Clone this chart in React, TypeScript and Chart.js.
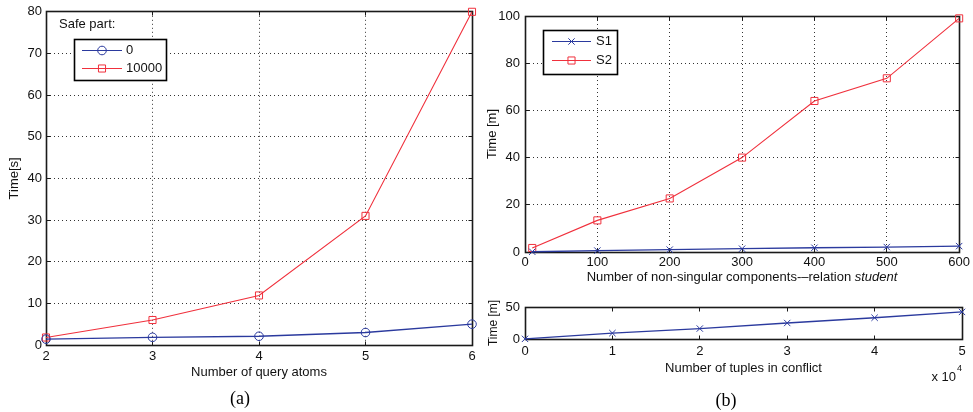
import React, { useEffect, useRef } from 'react';
import { Chart, registerables } from 'chart.js';
import { drawPoint } from 'chart.js/helpers';

Chart.register(...registerables);

const FONT = '"Liberation Sans", Arial, Helvetica, sans-serif';
const BLUE = '#2b3a9e';
const RED = '#f0303c';
const INK = '#111';

// ---- Chart (a): time vs number of query atoms ----
const atomsX = [2, 3, 4, 5, 6];
const safe0 = [1.4, 1.85, 2.1, 3.0, 5.0];
const safe10000 = [1.8, 6.0, 11.9, 31.0, 80.0];
const atomsLegend = ['0', '10000'];

// ---- Chart (b) top: time vs non-singular components ----
const componentsX = [10, 100, 200, 300, 400, 500, 600];
const s1 = [0.1, 0.6, 1.0, 1.4, 1.8, 2.1, 2.5];
const s2 = [1.7, 13.4, 22.7, 40.0, 64.0, 73.6, 99.0];
const componentsLegend = ['S1', 'S2'];

// ---- Chart (b) bottom: time vs tuples in conflict (x 10^4) ----
const tuplesX = [0, 1, 2, 3, 4, 5];
const tuplesTime = [0.2, 9.2, 16.3, 25.0, 33.2, 42.3];

const pts = (xs: number[], ys: number[]) => xs.map((x, i) => ({ x, y: ys[i] }));

const align = (p: number) => Math.round(p - 0.5) + 0.5;

const boxPlugin = {
  id: 'matlabBox',
  beforeDatasetsDraw(chart: any) {
    const { ctx, chartArea: a, scales } = chart;
    ctx.save();
    ctx.strokeStyle = '#1a1a1a';
    ctx.lineWidth = 1;
    ctx.setLineDash([]);
    const l = align(a.left), r = align(a.right), t = align(a.top), b = align(a.bottom);
    const tl = 4;
    ctx.beginPath();
    for (const tk of scales.x.ticks) {
      const x = align(scales.x.getPixelForValue(tk.value));
      ctx.moveTo(x, b); ctx.lineTo(x, b - tl);
      ctx.moveTo(x, t); ctx.lineTo(x, t + tl);
    }
    for (const tk of scales.y.ticks) {
      const y = align(scales.y.getPixelForValue(tk.value));
      ctx.moveTo(l, y); ctx.lineTo(l + tl, y);
      ctx.moveTo(r, y); ctx.lineTo(r - tl, y);
    }
    ctx.stroke();
    ctx.lineWidth = 1.6;
    ctx.strokeRect(l, t, r - l, b - t);
    ctx.restore();
  },
};

type LegendItem = { label: string; color: string; style: string; radius: number };
type LegendSpec = {
  title?: string; titleX?: number; titleY?: number;
  box: [number, number, number, number];
  lineX: [number, number]; rowsY: number[]; textX: number; items: LegendItem[];
};

function legendPlugin(spec: LegendSpec) {
  return {
    id: 'customLegend',
    afterDraw(chart: any) {
      const ctx = chart.ctx as CanvasRenderingContext2D;
      ctx.save();
      ctx.font = `13px ${FONT}`;
      ctx.fillStyle = INK;
      ctx.textBaseline = 'middle';
      ctx.textAlign = 'left';
      if (spec.title) ctx.fillText(spec.title, spec.titleX!, spec.titleY!);
      const [x, y, w, h] = spec.box;
      ctx.fillStyle = '#fff';
      ctx.fillRect(x, y, w, h);
      ctx.strokeStyle = '#000';
      ctx.lineWidth = 1.6;
      ctx.strokeRect(x + 0.5, y + 0.5, w, h);
      spec.items.forEach((it, i) => {
        const yy = spec.rowsY[i] + 0.5;
        ctx.strokeStyle = it.color;
        ctx.lineWidth = 1.2;
        ctx.beginPath();
        ctx.moveTo(spec.lineX[0], yy);
        ctx.lineTo(spec.lineX[1], yy);
        ctx.stroke();
        ctx.fillStyle = 'rgba(0,0,0,0)';
        ctx.lineWidth = 1;
        drawPoint(ctx, { pointStyle: it.style as any, radius: it.radius, rotation: 0, borderWidth: 1 } as any,
          (spec.lineX[0] + spec.lineX[1]) / 2, yy);
        ctx.fillStyle = INK;
        ctx.font = `13px ${FONT}`;
        ctx.fillText(it.label, spec.textX, spec.rowsY[i]);
      });
      ctx.restore();
    },
  };
}

const tickFont = { family: FONT, size: 13 };
const titleFont = { family: FONT, size: 13 };

function dottedGrid() {
  return {
    grid: { color: '#333', lineWidth: 1, drawTicks: false },
    border: { display: false, dash: [1, 3] },
  };
}

function lineDataset(label: string, data: any[], color: string, style: string, radius: number, width = 1) {
  return {
    label,
    data,
    borderColor: color,
    borderWidth: width,
    pointStyle: style,
    pointRadius: radius,
    pointHoverRadius: radius,
    pointBorderColor: color,
    pointBackgroundColor: 'rgba(0,0,0,0)',
    pointBorderWidth: 1,
    tension: 0,
    clip: false as any,
  };
}

const baseOptions = {
  responsive: false,
  animation: false as const,
  devicePixelRatio: 1,
  plugins: { legend: { display: false }, tooltip: { enabled: false } },
  events: [] as any[],
};

function configA(): any {
  return {
    type: 'line',
    data: {
      datasets: [
        lineDataset(atomsLegend[0], pts(atomsX, safe0), BLUE, 'circle', 4.3, 1.3),
        lineDataset(atomsLegend[1], pts(atomsX, safe10000), RED, 'rect', 5, 1.1),
      ],
    },
    options: {
      ...baseOptions,
      layout: { padding: { left: 0, top: 9, right: 18, bottom: 0 } },
      scales: {
        x: {
          type: 'linear', min: 2, max: 6,
          ticks: { stepSize: 1, color: INK, font: tickFont, padding: 4 },
          ...dottedGrid(),
          title: { display: true, text: 'Number of query atoms', color: INK, font: titleFont, padding: { top: 0, bottom: 32 } },
          afterFit: (s: any) => { s.height = 67; },
        },
        y: {
          type: 'linear', min: 0, max: 80,
          ticks: { stepSize: 10, color: INK, font: tickFont, padding: 4 },
          ...dottedGrid(),
          title: { display: true, text: 'Time[s]', color: INK, font: titleFont, padding: { top: 7, bottom: 0 } },
          afterFit: (s: any) => { s.width = 46; },
        },
      },
    },
    plugins: [
      boxPlugin,
      legendPlugin({
        title: 'Safe part:', titleX: 59, titleY: 24,
        box: [74, 39, 92, 41], lineX: [82, 122], rowsY: [50, 68], textX: 126,
        items: [
          { label: atomsLegend[0], color: BLUE, style: 'circle', radius: 4.3 },
          { label: atomsLegend[1], color: RED, style: 'rect', radius: 5 },
        ],
      }),
    ],
  };
}

const b1TitlePlugin = {
  id: 'b1Title',
  afterDraw(chart: any) {
    const ctx = chart.ctx as CanvasRenderingContext2D;
    const plain = 'Number of non-singular components-\u2013relation ';
    const ital = 'student';
    ctx.save();
    ctx.textBaseline = 'middle';
    ctx.textAlign = 'left';
    ctx.fillStyle = INK;
    ctx.font = `13px ${FONT}`;
    const w1 = ctx.measureText(plain).width;
    ctx.font = `italic 13px ${FONT}`;
    const w2 = ctx.measureText(ital).width;
    const cx = 262;
    const y = 277;
    const x0 = cx - (w1 + w2) / 2;
    ctx.font = `13px ${FONT}`;
    ctx.fillText(plain, x0, y);
    ctx.font = `italic 13px ${FONT}`;
    ctx.fillText(ital, x0 + w1, y);
    ctx.restore();
  },
};

function configB1(): any {
  return {
    type: 'line',
    data: {
      datasets: [
        lineDataset(componentsLegend[0], pts(componentsX, s1), BLUE, 'crossRot', 4.5, 1.3),
        lineDataset(componentsLegend[1], pts(componentsX, s2), RED, 'rect', 5, 1.1),
      ],
    },
    options: {
      ...baseOptions,
      layout: { padding: { left: 0, top: 16, right: 11, bottom: 0 } },
      scales: {
        x: {
          type: 'linear', min: 0, max: 600,
          ticks: { stepSize: 100, color: INK, font: tickFont, padding: 3 },
          ...dottedGrid(),
          afterFit: (s: any) => { s.height = 38; },
        },
        y: {
          type: 'linear', min: 0, max: 100,
          ticks: { stepSize: 20, color: INK, font: tickFont, padding: 5 },
          ...dottedGrid(),
          title: { display: true, text: 'Time [m]', color: INK, font: titleFont, padding: { top: 5, bottom: 0 } },
          afterFit: (s: any) => { s.width = 45; },
        },
      },
    },
    plugins: [
      boxPlugin,
      b1TitlePlugin,
      legendPlugin({
        box: [63, 30, 74, 44], lineX: [72, 111], rowsY: [41, 60], textX: 116,
        items: [
          { label: componentsLegend[0], color: BLUE, style: 'crossRot', radius: 4.5 },
          { label: componentsLegend[1], color: RED, style: 'rect', radius: 5 },
        ],
      }),
    ],
  };
}

const expPlugin = {
  id: 'expLabel',
  afterDraw(chart: any) {
    const ctx = chart.ctx as CanvasRenderingContext2D;
    ctx.save();
    ctx.fillStyle = INK;
    ctx.textBaseline = 'middle';
    ctx.textAlign = 'right';
    ctx.font = `9px ${FONT}`;
    ctx.fillText('4', 482, 79);
    const w4 = ctx.measureText('4').width;
    ctx.font = `13px ${FONT}`;
    ctx.fillText('x 10', 482 - w4 - 1, 87);
    ctx.restore();
  },
};

function configB2(): any {
  return {
    type: 'line',
    data: {
      datasets: [lineDataset('S1', pts(tuplesX, tuplesTime), BLUE, 'crossRot', 4.5, 1.3)],
    },
    options: {
      ...baseOptions,
      layout: { padding: { left: 0, top: 17, right: 11, bottom: 0 } },
      scales: {
        x: {
          type: 'linear', min: 0, max: 5,
          ticks: { stepSize: 1, color: INK, font: tickFont, padding: 5 },
          grid: { display: false, drawTicks: false },
          border: { display: false },
          title: { display: true, text: 'Number of tuples in conflict', color: INK, font: titleFont, padding: { top: 0, bottom: 36 } },
          afterFit: (s: any) => { s.height = 73; },
        },
        y: {
          type: 'linear', min: 0, max: 50,
          ticks: { stepSize: 50, color: INK, font: tickFont, padding: 5 },
          grid: { display: false, drawTicks: false },
          border: { display: false },
          title: { display: true, text: 'Time [m]', color: INK, font: { family: FONT, size: 12 }, padding: { top: 6, bottom: 0 } },
          afterFit: (s: any) => { s.width = 45; },
        },
      },
    },
    plugins: [boxPlugin, expPlugin],
  };
}

function ChartBox(props: { left: number; top: number; width: number; height: number; make: () => any }) {
  const ref = useRef<HTMLCanvasElement | null>(null);
  useEffect(() => {
    if (!ref.current) return;
    const chart = new Chart(ref.current, props.make());
    return () => chart.destroy();
  }, []);
  return (
    <canvas
      ref={ref}
      width={props.width}
      height={props.height}
      style={{ position: 'absolute', left: props.left, top: props.top, width: props.width, height: props.height }}
    />
  );
}

const captionStyle: React.CSSProperties = {
  position: 'absolute',
  width: 60,
  textAlign: 'center',
  font: '18px "Liberation Serif", "Times New Roman", serif',
  lineHeight: '20px',
  color: '#000',
};

export default function App() {
  useEffect(() => {
    document.body.style.margin = '0';
  }, []);
  return (
    <div style={{ position: 'relative', width: 973, height: 412, background: '#fff', overflow: 'hidden' }}>
      <ChartBox left={0} top={0} width={490} height={412} make={configA} />
      <ChartBox left={480} top={0} width={493} height={290} make={configB1} />
      <ChartBox left={480} top={290} width={493} height={122} make={configB2} />
      <div style={{ ...captionStyle, left: 210, top: 388 }}>(a)</div>
      <div style={{ ...captionStyle, left: 696, top: 390 }}>(b)</div>
    </div>
  );
}
